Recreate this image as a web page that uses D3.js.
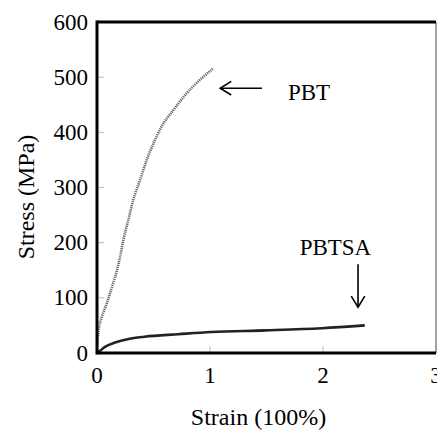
<!DOCTYPE html>
<html>
<head>
<meta charset="utf-8">
<script src="https://cdn.jsdelivr.net/npm/d3@7"></script>
<style>
  body { margin: 0; background: #fff; }
  svg text { font-family: "Liberation Serif", "Times New Roman", Tinos, "DejaVu Serif", serif; fill: #000; }
</style>
</head>
<body>
<svg id="chart" width="437" height="430"></svg>
<script>
// data: [strain, stress]
const pbtStrain  = [0, 0.005, 0.015, 0.044, 0.088, 0.133, 0.177, 0.204, 0.233, 0.277, 0.32, 0.38, 0.44, 0.50, 0.57, 0.675, 0.79, 0.91, 1.03];
const pbtStress  = [0, 20, 42, 66, 91, 120, 150, 174, 205, 241, 277, 313, 350, 380, 410, 440, 470, 495, 516];
const pbtsaStrain = [0, 0.027, 0.07, 0.16, 0.28, 0.42, 0.72, 1.01, 1.49, 1.99, 2.37];
const pbtsaStress = [0, 4, 11, 19, 25.5, 29.5, 34, 38, 41, 45, 50];
const xTicks = [0, 1, 2, 3];
const yTicks = [0, 100, 200, 300, 400, 500, 600];

const svg = d3.select("#chart");
const plotL = 97, plotR = 436, plotT = 22, plotB = 353;
const fs = 23;

const x = d3.scaleLinear().domain([0, 3]).range([plotL, plotR]);
const y = d3.scaleLinear().domain([0, 600]).range([plotB, plotT]);

// inner ticks, light gray
svg.append("g")
    .selectAll("line")
    .data(yTicks.slice(1, -1))
    .enter().append("line")
    .attr("x1", plotL).attr("x2", plotL + 7)
    .attr("y1", d => y(d)).attr("y2", d => y(d))
    .attr("stroke", "#bbb").attr("stroke-width", 1);
svg.append("g")
    .selectAll("line")
    .data(xTicks.slice(1, -1))
    .enter().append("line")
    .attr("x1", d => x(d)).attr("x2", d => x(d))
    .attr("y1", plotB).attr("y2", plotB - 7)
    .attr("stroke", "#bbb").attr("stroke-width", 1);

// tick labels
svg.append("g")
    .selectAll("text")
    .data(yTicks)
    .enter().append("text")
    .attr("x", plotL - 9)
    .attr("y", d => y(d))
    .attr("dy", "0.33em")
    .attr("text-anchor", "end")
    .attr("font-size", fs)
    .text(d => d);
svg.append("g")
    .selectAll("text")
    .data(xTicks)
    .enter().append("text")
    .attr("x", d => x(d))
    .attr("y", 383)
    .attr("text-anchor", "middle")
    .attr("font-size", fs)
    .text(d => d);

// curves
const pbt = pbtStrain.map((s, i) => [s, pbtStress[i]]);
const pbtsa = pbtsaStrain.map((s, i) => [s, pbtsaStress[i]]);
const line = d3.line().x(d => x(d[0])).y(d => y(d[1])).curve(d3.curveMonotoneX);

svg.append("path")
    .datum(pbt)
    .attr("d", line)
    .attr("fill", "none")
    .attr("stroke", "#666")
    .attr("stroke-width", 2.6)
    .attr("stroke-dasharray", "1.2,0.9");

svg.append("path")
    .datum(pbtsa)
    .attr("d", line)
    .attr("fill", "none")
    .attr("stroke", "#222")
    .attr("stroke-width", 2.6);

// frame
svg.append("line").attr("x1", plotR).attr("x2", plotR).attr("y1", plotT).attr("y2", plotB)
    .attr("stroke", "#444").attr("stroke-width", 1);
svg.append("line").attr("x1", plotL).attr("x2", plotR).attr("y1", plotT).attr("y2", plotT)
    .attr("stroke", "#000").attr("stroke-width", 3);
svg.append("line").attr("x1", plotL).attr("x2", plotR).attr("y1", plotB).attr("y2", plotB)
    .attr("stroke", "#000").attr("stroke-width", 3);
svg.append("line").attr("x1", plotL).attr("x2", plotL).attr("y1", plotT - 1.5).attr("y2", plotB + 1.5)
    .attr("stroke", "#000").attr("stroke-width", 3);

// annotations
function arrow(x1, y1, x2, y2) {
  const g = svg.append("g").attr("stroke", "#000").attr("stroke-width", 1.6).attr("fill", "none");
  g.append("line").attr("x1", x1).attr("y1", y1).attr("x2", x2).attr("y2", y2);
  const a = Math.atan2(y2 - y1, x2 - x1), h = 13, w = 0.55;
  g.append("path").attr("d",
    "M" + (x2 - h * Math.cos(a - w)) + "," + (y2 - h * Math.sin(a - w)) +
    "L" + x2 + "," + y2 +
    "L" + (x2 - h * Math.cos(a + w)) + "," + (y2 - h * Math.sin(a + w)));
}
arrow(x(1.46), y(480), x(1.09), y(480));
arrow(x(2.31), y(161), x(2.31), y(83));

svg.append("text").attr("x", x(1.69)).attr("y", y(458)).attr("font-size", fs).text("PBT");
svg.append("text").attr("x", x(2.11)).attr("y", y(177)).attr("text-anchor", "middle")
    .attr("font-size", fs).text("PBTSA");

// axis titles
svg.append("text")
    .attr("x", (plotL + plotR) / 2 - 8)
    .attr("y", 425)
    .attr("text-anchor", "middle")
    .attr("font-size", fs + 1)
    .text("Strain (100%)");
svg.append("text")
    .attr("transform", "translate(34,197) rotate(-90)")
    .attr("text-anchor", "middle")
    .attr("font-size", fs + 1)
    .text("Stress (MPa)");
</script>
</body>
</html>
